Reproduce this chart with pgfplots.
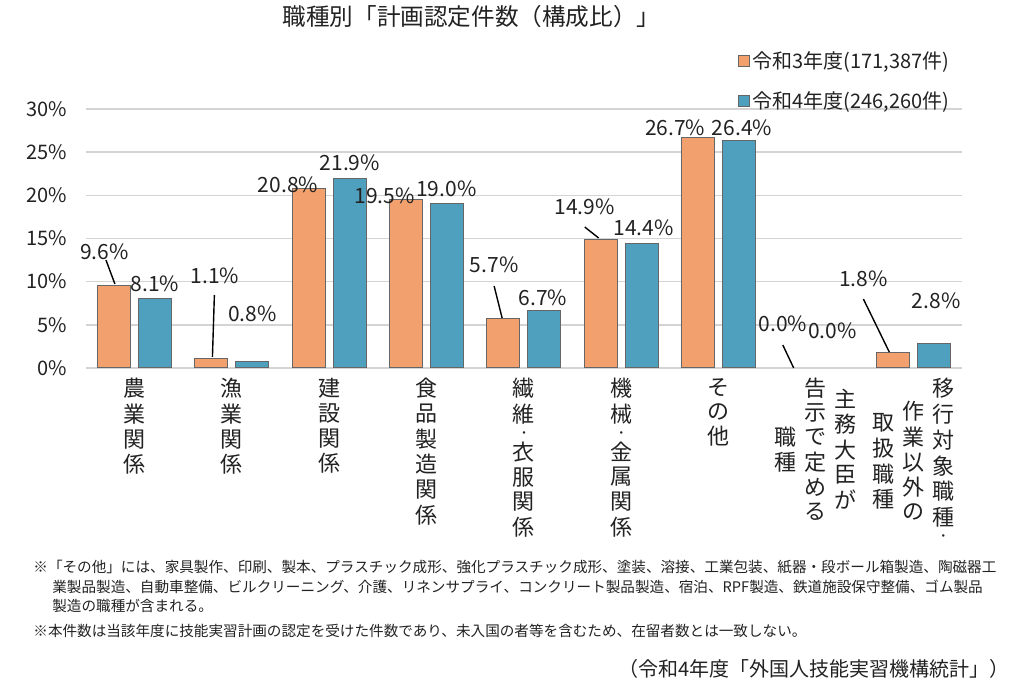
\documentclass[border=0pt]{standalone}
\usepackage{fontspec}
\setmainfont{Noto Sans CJK JP}
\usepackage{pgfplots}
\pgfplotsset{compat=1.18}
\definecolor{barA}{HTML}{F2A06E}
\definecolor{barB}{HTML}{4EA0BE}
\definecolor{txt}{HTML}{222222}
\newcommand\V[1]{\begin{tabular}[c]{@{}c@{}}#1\end{tabular}}
\newcommand\D{\raisebox{1.5pt}{\fontsize{6}{6}\selectfont ・}}
\begin{document}
\begin{tikzpicture}
\useasboundingbox (0,0) rectangle (512pt,348.5pt);
\begin{axis}[
  at={(43pt,164.5pt)}, anchor=south west,
  scale only axis, width=438pt, height=129.5pt,
  xmin=-0.5, xmax=8.5, ymin=0, ymax=30,
  axis line style={draw=none},
  major tick length=0pt,
  ytick={0,5,...,30},
  /pgf/number format/assume math mode=true,
  yticklabel={\pgfmathprintnumber{\tick}\%},
  yticklabel style={font=\fontsize{10}{12}\selectfont, xshift=-6pt, text=txt},
  ymajorgrids, grid style={draw=black!17, line width=0.8pt},
  xtick={0,...,8},
  xticklabels={
    {\V{農\\業\\関\\係}},
    {\V{漁\\業\\関\\係}},
    {\V{建\\設\\関\\係}},
    {\V{食\\品\\製\\造\\関\\係}},
    {\V{繊\\維\\[-3pt]\D\\[-3pt]衣\\服\\関\\係}},
    {\V{機\\械\\[-3pt]\D\\[-3pt]金\\属\\関\\係}},
    {\V{そ\\の\\他}},
    {\V{職\\種}\hspace{4pt}\V{告\\示\\で\\定\\め\\る}\hspace{4pt}\V{主\\務\\大\\臣\\が}},
    {\V{取\\扱\\職\\種}\hspace{4pt}\V{作\\業\\以\\外\\の}\hspace{4pt}\V{移\\行\\対\\象\\職\\種\\[-3pt]\D}}
  },
  xticklabel style={anchor=north, yshift=-5pt, font=\fontsize{11}{12}\selectfont, inner sep=0pt, text=txt},
  clip=false,
  unbounded coords=discard,
  legend style={draw=none, fill=none, at={(0.744,1.236)}, anchor=north west,
    row sep=7pt, font=\fontsize{10}{12}\selectfont, text=txt, inner sep=0pt,
    nodes={inner sep=1.5pt}},
  legend cell align=left,
]
\addplot[ybar, bar width=16.5pt, bar shift=-10.25pt, fill=barA, draw=black!60, line width=0.5pt,
  y filter/.expression={y==0 ? nan : y},
  legend image code/.code={\draw[fill=barA, draw=black!60, line width=0.4pt] (0pt,-2.7pt) rectangle (5.4pt,2.7pt);}]
  coordinates {(0,9.6) (1,1.1) (2,20.8) (3,19.5) (4,5.7) (5,14.9) (6,26.7) (7,0.0) (8,1.8)};
\addlegendentry{令和3年度(171,387件)}
\addplot[ybar, bar width=16.5pt, bar shift=10.25pt, fill=barB, draw=black!60, line width=0.5pt,
  y filter/.expression={y==0 ? nan : y},
  legend image code/.code={\draw[fill=barB, draw=black!60, line width=0.4pt] (0pt,-2.7pt) rectangle (5.4pt,2.7pt);}]
  coordinates {(0,8.1) (1,0.8) (2,21.9) (3,19.0) (4,6.7) (5,14.4) (6,26.4) (7,0.0) (8,2.8)};
\addlegendentry{令和4年度(246,260件)}
% leader lines
\addplot[forget plot, black, line width=0.7pt, quiver={u=\thisrow{u}, v=\thisrow{v}}] table {
x y u v
-0.295 12.51 0.092 -2.78
0.819 8.456 -0.020 -7.18
3.693 9.50 0.082 -3.71
4.624 16.33 0.143 -1.27
6.659 2.66 0.112 -2.66
7.487 7.99 0.266 -6.14
};
% data labels
\addplot[forget plot, draw=none, mark=none,
  nodes near coords={\pgfmathprintnumber[fixed,fixed zerofill,precision=1]{\pgfplotspointmeta}\%},
  point meta=explicit,
  every node near coord/.append style={anchor=center, font=\fontsize{10.5}{12}\selectfont, inner sep=0pt, text=txt}]
  table[meta=v] {
x y v
-0.310 13.49 9.6
0.209 9.73 8.1
0.825 10.66 1.1
1.211 6.26 0.8
1.576 21.2 20.8
2.210 23.75 21.9
2.568 19.92 19.5
3.202 20.73 19.0
3.693 11.93 5.7
4.194 8.11 6.7
4.624 18.65 14.9
5.227 16.22 14.4
5.554 27.80 26.7
6.240 27.80 26.4
6.659 5.10 0.0
7.170 4.29 0.0
7.487 10.31 1.8
8.234 7.76 2.8
};
\end{axis}
\node[anchor=center, font=\fontsize{11.8}{14}\selectfont, text=txt] at (235.75pt,340pt) {職種別「計画認定件数（構成比）」};
\node[anchor=west, font=\fontsize{7.3}{9}\selectfont, text=txt, inner sep=0pt] at (16.5pt,65pt) {※「その他」には、家具製作、印刷、製本、プラスチック成形、強化プラスチック成形、塗装、溶接、工業包装、紙器・段ボール箱製造、陶磁器工};
\node[anchor=west, font=\fontsize{7.3}{9}\selectfont, text=txt, inner sep=0pt] at (26pt,55pt) {業製品製造、自動車整備、ビルクリーニング、介護、リネンサプライ、コンクリート製品製造、宿泊、RPF製造、鉄道施設保守整備、ゴム製品};
\node[anchor=west, font=\fontsize{7.3}{9}\selectfont, text=txt, inner sep=0pt] at (26pt,45.5pt) {製造の職種が含まれる。};
\node[anchor=west, font=\fontsize{7.3}{9}\selectfont, text=txt, inner sep=0pt] at (16.5pt,33pt) {※本件数は当該年度に技能実習計画の認定を受けた件数であり、未入国の者等を含むため、在留者数とは一致しない。};
\node[anchor=east, font=\fontsize{10}{12}\selectfont, text=txt, inner sep=0pt] at (505pt,14pt) {（令和4年度「外国人技能実習機構統計」）};
\end{tikzpicture}
\end{document}
